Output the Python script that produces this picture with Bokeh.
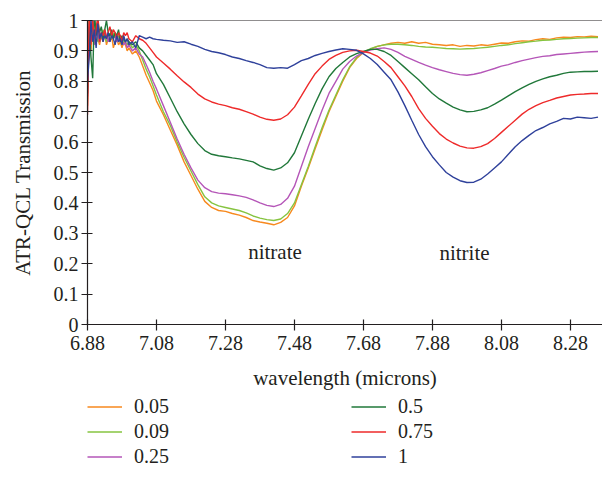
from bokeh.plotting import figure
from bokeh.layouts import column
from bokeh.models import Legend, LegendItem, FixedTicker, Span, Range1d, Label
from bokeh.embed import file_html
from bokeh.resources import INLINE

# wavelength grid (microns)
WAVELENGTH = [6.880, 6.885, 6.890, 6.895, 6.900, 6.905, 6.910, 6.915, 6.920, 6.925,
              6.930, 6.935, 6.940, 6.945, 6.950, 6.955, 6.960, 6.965, 6.970, 6.975,
              6.980, 6.985, 6.990, 6.995,
              7.00, 7.01, 7.02, 7.03, 7.04, 7.05, 7.06, 7.07, 7.08,
              7.10, 7.12, 7.14, 7.16, 7.18, 7.20, 7.22, 7.24, 7.26, 7.28,
              7.30, 7.32, 7.34, 7.36, 7.38, 7.40, 7.42, 7.44, 7.46, 7.48,
              7.50, 7.52, 7.54, 7.56, 7.58, 7.60, 7.62, 7.64, 7.66, 7.68,
              7.70, 7.72, 7.74, 7.76, 7.78, 7.80, 7.82, 7.84, 7.86, 7.88,
              7.90, 7.92, 7.94, 7.96, 7.98, 8.00, 8.02, 8.04, 8.06, 8.08,
              8.10, 8.12, 8.14, 8.16, 8.18, 8.20, 8.22, 8.24, 8.26, 8.28,
              8.30, 8.32, 8.34, 8.36]

T_005 = [0.72, 1.00, 0.90, 0.97, 0.93, 0.99, 0.94, 0.92, 0.95, 0.93,
         0.96, 0.92, 0.94, 0.93, 0.95, 0.91, 0.93, 0.94, 0.92, 0.93,
         0.91, 0.93, 0.92, 0.90,
         0.91, 0.89, 0.90, 0.88, 0.85, 0.82, 0.795, 0.77, 0.735,
         0.69, 0.64, 0.59, 0.535, 0.49, 0.445, 0.405, 0.385, 0.375, 0.372,
         0.365, 0.36, 0.352, 0.342, 0.337, 0.333, 0.328, 0.336, 0.352, 0.39,
         0.455, 0.515, 0.578, 0.64, 0.70, 0.75, 0.80, 0.845, 0.875, 0.895,
         0.905, 0.915, 0.92, 0.925, 0.928, 0.925, 0.93, 0.925, 0.928, 0.922,
         0.92, 0.918, 0.92, 0.915, 0.918, 0.916, 0.92, 0.918, 0.922, 0.926,
         0.925, 0.93, 0.933, 0.932, 0.937, 0.94, 0.938, 0.943, 0.945, 0.944,
         0.947, 0.946, 0.948, 0.947]

T_009 = [0.78, 1.02, 0.93, 1.00, 0.95, 0.98, 0.93, 0.96, 0.94, 0.97,
         0.95, 0.93, 0.96, 0.95, 0.94, 0.96, 0.95, 0.93, 0.95, 0.94,
         0.92, 0.94, 0.93, 0.92,
         0.93, 0.91, 0.92, 0.90, 0.87, 0.84, 0.815, 0.785, 0.755,
         0.70, 0.655, 0.60, 0.55, 0.505, 0.46, 0.42, 0.40, 0.39, 0.385,
         0.38, 0.375, 0.367, 0.357, 0.35, 0.345, 0.342, 0.347, 0.365, 0.40,
         0.46, 0.52, 0.585, 0.647, 0.705, 0.755, 0.805, 0.848, 0.878, 0.897,
         0.907, 0.915, 0.92, 0.922, 0.922, 0.92, 0.918, 0.915, 0.913, 0.912,
         0.91, 0.908, 0.907, 0.906, 0.907, 0.908, 0.91, 0.912, 0.915, 0.918,
         0.92, 0.924, 0.927, 0.93, 0.932, 0.935, 0.936, 0.938, 0.94, 0.941,
         0.942, 0.943, 0.944, 0.944]

T_025 = [0.75, 0.99, 0.95, 1.02, 0.92, 0.97, 0.95, 0.93, 0.96, 0.94,
         0.97, 0.95, 0.93, 0.95, 0.96, 0.94, 0.95, 0.93, 0.94, 0.95,
         0.93, 0.92, 0.93, 0.91,
         0.92, 0.90, 0.91, 0.89, 0.88, 0.855, 0.83, 0.80, 0.775,
         0.72, 0.665, 0.61, 0.56, 0.515, 0.475, 0.45, 0.437, 0.432, 0.43,
         0.427, 0.423, 0.418, 0.41, 0.40, 0.392, 0.388, 0.395, 0.415, 0.455,
         0.52, 0.585, 0.645, 0.705, 0.76, 0.80, 0.84, 0.865, 0.883, 0.895,
         0.903, 0.907, 0.91, 0.905, 0.895, 0.882, 0.872, 0.862, 0.853, 0.845,
         0.838, 0.832, 0.826, 0.822, 0.82, 0.823, 0.828, 0.835, 0.842, 0.85,
         0.855, 0.862, 0.868, 0.873, 0.878, 0.882, 0.884, 0.888, 0.89, 0.892,
         0.894, 0.896, 0.897, 0.898]

T_050 = [0.76, 0.98, 0.88, 0.81, 1.03, 0.95, 1.00, 0.96, 0.98, 0.94,
         0.97, 1.00, 0.96, 0.95, 0.97, 0.94, 0.96, 0.95, 0.97, 0.93,
         0.95, 0.94, 0.93, 0.94,
         0.93, 0.92, 0.93, 0.91, 0.90, 0.885, 0.87, 0.855, 0.825,
         0.79, 0.745, 0.70, 0.66, 0.625, 0.595, 0.572, 0.56, 0.555, 0.552,
         0.548, 0.545, 0.54, 0.535, 0.522, 0.513, 0.508, 0.515, 0.532, 0.565,
         0.62, 0.675, 0.727, 0.775, 0.815, 0.842, 0.862, 0.88, 0.891, 0.898,
         0.905, 0.905, 0.898, 0.885, 0.865, 0.845, 0.825, 0.805, 0.782, 0.76,
         0.742, 0.728, 0.715, 0.706, 0.70, 0.701, 0.706, 0.713, 0.725, 0.738,
         0.752, 0.766, 0.778, 0.79, 0.80, 0.808, 0.815, 0.82, 0.826, 0.83,
         0.831, 0.832, 0.832, 0.833]

T_075 = [0.69, 1.03, 0.92, 1.00, 0.94, 0.97, 1.02, 0.93, 0.96, 0.95,
         0.97, 0.94, 0.96, 0.98, 0.95, 0.97, 0.96, 0.94, 0.96, 0.95,
         0.93, 0.96, 0.95, 0.96,
         0.94, 0.93, 0.95, 0.94, 0.935, 0.925, 0.91, 0.895, 0.88,
         0.86, 0.84, 0.818, 0.798, 0.78, 0.758, 0.742, 0.732, 0.725, 0.72,
         0.713, 0.708, 0.70, 0.692, 0.682, 0.675, 0.672, 0.676, 0.69, 0.715,
         0.752, 0.79, 0.825, 0.85, 0.872, 0.885, 0.895, 0.90, 0.902, 0.898,
         0.893, 0.883, 0.865, 0.845, 0.815, 0.785, 0.75, 0.71, 0.678, 0.652,
         0.628, 0.61, 0.597, 0.587, 0.581, 0.58, 0.585, 0.595, 0.612, 0.632,
         0.652, 0.672, 0.692, 0.708, 0.72, 0.73, 0.737, 0.745, 0.75, 0.755,
         0.757, 0.758, 0.76, 0.76]

T_100 = [0.80, 0.88, 1.00, 0.93, 0.97, 0.91, 0.99, 0.94, 0.96, 0.93,
         0.95, 0.94, 0.96, 0.93, 0.95, 0.94, 0.92, 0.95, 0.93, 0.94,
         0.92, 0.95, 0.93, 0.94,
         0.92, 0.93, 0.91, 0.95, 0.945, 0.94, 0.945, 0.94, 0.938,
         0.935, 0.933, 0.928, 0.93, 0.922, 0.915, 0.905, 0.898, 0.894, 0.888,
         0.88, 0.875, 0.868, 0.862, 0.855, 0.845, 0.843, 0.845, 0.843, 0.855,
         0.868, 0.875, 0.885, 0.892, 0.898, 0.903, 0.907, 0.905, 0.902, 0.89,
         0.875, 0.855, 0.83, 0.805, 0.765, 0.72, 0.672, 0.625, 0.585, 0.552,
         0.525, 0.50, 0.485, 0.473, 0.467, 0.468, 0.478, 0.495, 0.515, 0.535,
         0.56, 0.585, 0.605, 0.622, 0.638, 0.648, 0.66, 0.668, 0.678, 0.676,
         0.682, 0.68, 0.678, 0.682]

SERIES_NAMES = ["0.05", "0.09", "0.25", "0.5", "0.75", "1"]
SERIES_VALUES = [T_005, T_009, T_025, T_050, T_075, T_100]
SERIES_COLORS = ["#f7891e", "#86c440", "#b556b8", "#21783a", "#ee2a2a", "#2f419b"]

X_TICKS = [6.88, 7.08, 7.28, 7.48, 7.68, 7.88, 8.08, 8.28]
X_TICK_LABELS = ["6.88", "7.08", "7.28", "7.48", "7.68", "7.88", "8.08", "8.28"]
Y_TICKS = [0, 0.1, 0.2, 0.3, 0.4, 0.5, 0.6, 0.7, 0.8, 0.9, 1]
Y_TICK_LABELS = ["0", "0.1", "0.2", "0.3", "0.4", "0.5", "0.6", "0.7", "0.8", "0.9", "1"]

ANNOTATIONS = [("nitrate", 7.4235, 0.237), ("nitrite", 7.973, 0.234)]

FONT = "Liberation Serif"
INK = "#231f20"
LINE_W = 1.4

p = figure(width=602, height=396, output_backend="svg", toolbar_location=None,
           x_range=Range1d(6.88, 8.373), y_range=Range1d(0, 1),
           min_border_left=87, min_border_right=0, min_border_top=20,
           min_border_bottom=72)
p.outline_line_color = None
p.xgrid.grid_line_color = None
p.ygrid.grid_line_color = None
p.background_fill_color = "white"
p.border_fill_color = "white"

for name, vals, col in zip(SERIES_NAMES, SERIES_VALUES, SERIES_COLORS):
    p.line(WAVELENGTH, vals, line_color=col, line_width=LINE_W)

p.add_layout(Span(location=1, dimension="width", line_color=INK, line_width=1.2))

for ax in (p.xaxis[0], p.yaxis[0]):
    ax.axis_line_color = INK
    ax.axis_line_width = 1.2
    ax.major_tick_line_color = INK
    ax.major_tick_line_width = 1.2
    ax.major_tick_in = 5
    ax.major_tick_out = 6
    ax.minor_tick_line_color = None
    ax.major_label_text_font = FONT
    ax.major_label_text_font_size = "20px"
    ax.major_label_text_color = INK
    ax.axis_label_text_font = FONT
    ax.axis_label_text_font_size = "21px"
    ax.axis_label_text_font_style = "normal"
    ax.axis_label_text_color = INK

p.xaxis.ticker = FixedTicker(ticks=X_TICKS)
p.xaxis.major_label_overrides = dict(zip(X_TICKS, X_TICK_LABELS))
p.yaxis.ticker = FixedTicker(ticks=Y_TICKS)
p.yaxis.major_label_overrides = dict(zip(Y_TICKS, Y_TICK_LABELS))
p.xaxis.axis_label = "wavelength (microns)"
p.yaxis.axis_label = "ATR-QCL Transmission"
p.xaxis.major_label_standoff = 5
p.yaxis.major_label_standoff = 3
p.xaxis.axis_label_standoff = 13
p.yaxis.axis_label_standoff = 16

for txt, x, y in ANNOTATIONS:
    p.add_layout(Label(x=x, y=y, text=txt, text_font=FONT, text_font_size="21px",
                       text_color=INK, text_align="center", text_baseline="middle"))

# legend panel below the chart (its frame is aligned with the chart's frame)
lg = figure(width=602, height=86, output_backend="svg", toolbar_location=None,
            x_axis_type=None, y_axis_type=None,
            x_range=Range1d(0, 1), y_range=Range1d(0, 1),
            min_border_left=0, min_border_right=0, min_border_top=0, min_border_bottom=0)
lg.outline_line_color = None
lg.xgrid.grid_line_color = None
lg.ygrid.grid_line_color = None
lg.border_fill_color = "white"

items = []
for name, vals, col in zip(SERIES_NAMES, SERIES_VALUES, SERIES_COLORS):
    # same series, outside this panel's visible range: only its legend swatch shows
    r = lg.line(WAVELENGTH, vals, line_color=col, line_width=LINE_W)
    items.append(LegendItem(label=name, renderers=[r]))

legend = Legend(items=items, ncols=2, orientation="vertical", location=(0, 14),
                glyph_width=35, glyph_height=23, label_height=23, label_width=215,
                label_standoff=12, spacing=2, padding=0, margin=0,
                label_text_font=FONT, label_text_font_size="20px",
                label_text_color=INK, border_line_color=None,
                background_fill_alpha=0)
lg.add_layout(legend, "center")

layout = column(p, lg, spacing=0)
open("out.html", "w").write(file_html(layout, INLINE))
